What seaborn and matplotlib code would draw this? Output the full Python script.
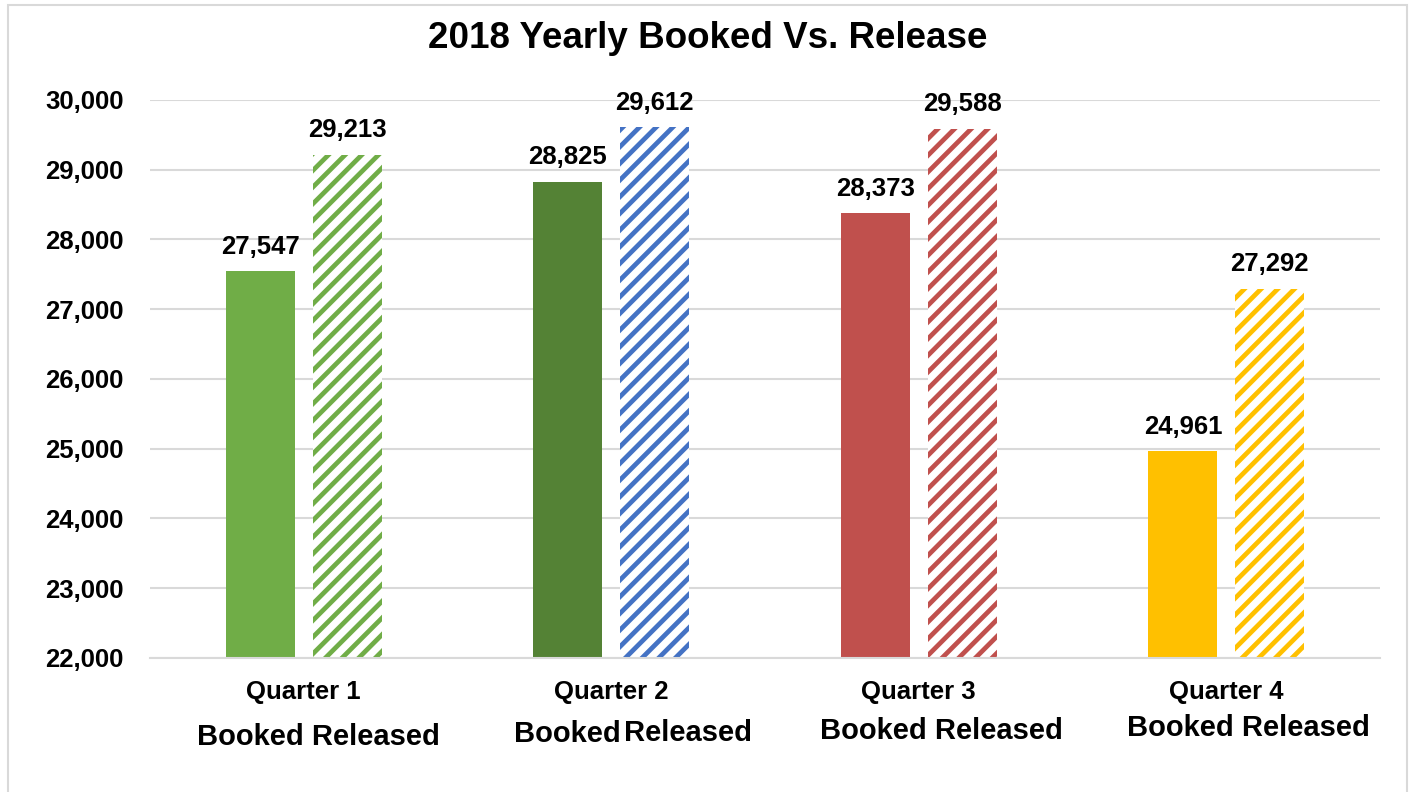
import matplotlib
matplotlib.use("Agg")
import matplotlib.pyplot as plt
from matplotlib.patches import Rectangle
from matplotlib.ticker import FuncFormatter
import seaborn as sns
import pandas as pd

quarters = ["Quarter 1", "Quarter 2", "Quarter 3", "Quarter 4"]
booked = [27547, 28825, 28373, 24961]
released = [29213, 29612, 29588, 27292]
booked_colors = ["#70AD47", "#548235", "#C0504D", "#FFC000"]
released_colors = ["#70AD47", "#4472C4", "#C0504D", "#FFC000"]

df = pd.DataFrame({
    "Quarter": quarters * 2,
    "Type": ["Booked"] * 4 + ["Released"] * 4,
    "Value": booked + released,
})

sns.set_theme(style="white")
plt.rcParams["font.family"] = ["Liberation Sans", "DejaVu Sans"]
plt.rcParams["font.weight"] = "bold"
plt.rcParams["text.color"] = "black"
plt.rcParams["xtick.color"] = "black"
plt.rcParams["ytick.color"] = "black"
plt.rcParams["hatch.linewidth"] = 3.4

fig = plt.figure(figsize=(14.14, 7.92), dpi=100)
ax = fig.add_axes([150 / 1414, 1 - 658 / 792, 1230 / 1414, 558 / 792])

sns.barplot(data=df, x="Quarter", y="Value", hue="Type", order=quarters,
            width=0.564, gap=0.205, legend=False, ax=ax)

for bar, c in zip(ax.containers[0], booked_colors):
    bar.set_facecolor(c)
    bar.set_edgecolor(c)
    bar.set_linewidth(0)
for bar, c in zip(ax.containers[1], released_colors):
    bar.set_facecolor("white")
    bar.set_edgecolor(c)
    bar.set_hatch("//")
    bar.set_linewidth(0)

for cont in ax.containers:
    for bar in cont:
        h = bar.get_height()
        ax.annotate(f"{h:,.0f}", (bar.get_x() + bar.get_width() / 2, h),
                    xytext=(0, 9), textcoords="offset points",
                    ha="center", va="bottom", fontsize=18.5,
                    fontweight="bold", color="black")

ax.set_ylim(22000, 30000)
ax.set_xlim(-0.5, 3.5)
ax.set_yticks(range(22000, 30001, 1000))
ax.yaxis.set_major_formatter(FuncFormatter(lambda v, p: f"{v:,.0f}"))
ax.grid(axis="y", color="#D9D9D9", linewidth=1.5)
ax.set_axisbelow(True)
for s in ["left", "right", "top"]:
    ax.spines[s].set_visible(False)
ax.spines["bottom"].set_color("#D9D9D9")
ax.spines["bottom"].set_linewidth(1.5)
ax.tick_params(axis="y", labelsize=18.5, length=0, pad=19, labelcolor="black")
ax.tick_params(axis="x", labelsize=18.5, length=0, pad=16, labelcolor="black")
for t in ax.get_xticklabels() + ax.get_yticklabels():
    t.set_fontweight("bold")
ax.set_xlabel("")
ax.set_ylabel("")

fig.text(708 / 1414, 1 - 38 / 792, "2018 Yearly Booked Vs. Release",
         ha="center", va="center", fontsize=26.5, fontweight="bold",
         color="black")

sub_kw = dict(ha="center", va="center", fontsize=21, fontweight="bold",
              color="black")
fig.text(318 / 1414, 1 - 737 / 792, "Booked Released", **sub_kw)
fig.text(567 / 1414, 1 - 734 / 792, "Booked", **sub_kw)
fig.text(688 / 1414, 1 - 733 / 792, "Released", **sub_kw)
fig.text(941 / 1414, 1 - 731 / 792, "Booked Released", **sub_kw)
fig.text(1248 / 1414, 1 - 728 / 792, "Booked Released", **sub_kw)

fig.patches.append(Rectangle((8 / 1414, -0.01), 1399 / 1414, 1 - 5 / 792 + 0.01,
                             transform=fig.transFigure, fill=False,
                             edgecolor="#D9D9D9", linewidth=1.5))

fig.savefig("out.png", dpi=100)
